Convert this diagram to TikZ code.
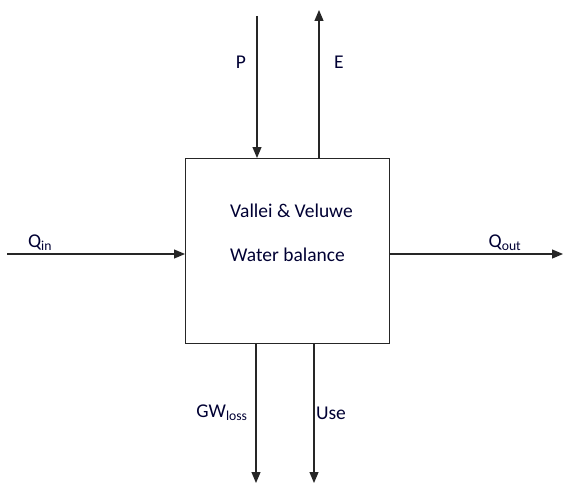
\documentclass[tikz,border=0pt]{standalone}
\usepackage{fontspec}
\setmainfont{Carlito}
\usetikzlibrary{arrows.meta}
\begin{document}
\begin{tikzpicture}[x=1pt,y=-1pt,
  flow/.style={line width=1.2pt,draw=black!85,-{Triangle[length=11pt,width=9pt]}},
  lbl/.style={font=\fontsize{19.5}{22}\selectfont,text=black!80!blue,inner sep=0pt},
  sys/.style={draw=black!85,line width=1.2pt,fill=white}]
\useasboundingbox (0,0) rectangle (564,484);
\node[sys,minimum width=204pt,minimum height=185pt,anchor=north west] (box) at (185,158) {};
\node[lbl,anchor=west] (t1) at (230,211) {Vallei \& Veluwe};
\node[lbl,anchor=west] (t2) at (230,255) {Water balance};
% top
\coordinate (ptop) at (257,16);
\coordinate (pbot) at (257,158);
\coordinate (ebot) at (319,158);
\coordinate (etop) at (319,10);
\draw[flow] (ptop) -- (pbot);
\draw[flow] (ebot) -- (etop);
\node[lbl] (P) at (241,62) {P};
\node[lbl] (E) at (339,62) {E};
% left/right
\coordinate (qin0) at (7,254);
\coordinate (qin1) at (185,254);
\coordinate (qout0) at (389,254);
\coordinate (qout1) at (563,254);
\draw[flow] (qin0) -- (qin1);
\draw[flow] (qout0) -- (qout1);
\node[lbl] (Qin) at (40,243) {Q\textsubscript{in}};
\node[lbl] (Qout) at (505,243) {Q\textsubscript{out}};
% bottom
\coordinate (g0) at (256,343);
\coordinate (g1) at (256,483);
\coordinate (u0) at (314,343);
\coordinate (u1) at (314,483);
\draw[flow] (g0) -- (g1);
\draw[flow] (u0) -- (u1);
\node[lbl] (GW) at (222,413) {GW\textsubscript{loss}};
\node[lbl] (Use) at (331,413) {Use};
\end{tikzpicture}
\end{document}
